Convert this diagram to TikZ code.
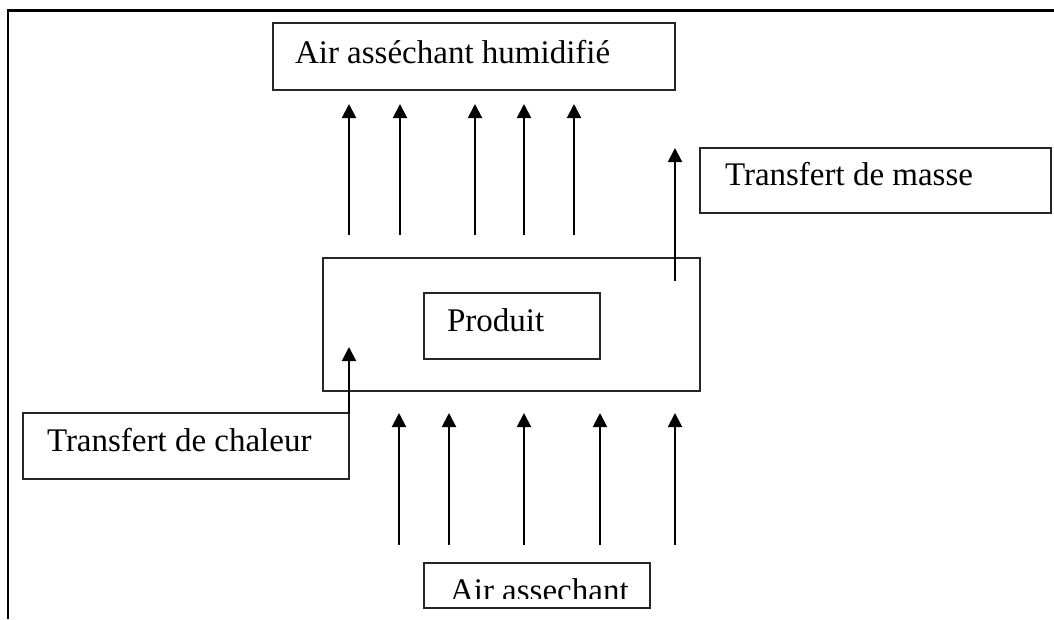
\documentclass[tikz,border=0pt]{standalone}
\usepackage{fontspec}
\setmainfont{Liberation Serif}
\usetikzlibrary{arrows.meta}
\begin{document}
\begin{tikzpicture}[x=1pt,y=-1pt,
  box/.style={draw=black!85,line width=1.6pt,inner sep=0pt,outer sep=0pt},
  lbl/.style={inner sep=0pt,outer sep=0pt,anchor=base west,font=\fontsize{33}{40}\selectfont},
  flow/.style={line width=2pt,-{Triangle[width=14pt,length=14pt]}}]
\useasboundingbox (0,0) rectangle (1054,619);
% frame (top and left edges)
\draw[line width=2.4pt] (8,619) -- (8,10.5) -- (1054,10.5);
% boxes
\node[box,minimum width=402pt,minimum height=67pt] (top) at (474,56.5) {};
\node[box,minimum width=351pt,minimum height=65pt] (masse) at (875.5,180.5) {};
\node[box,minimum width=377pt,minimum height=133pt] (milieu) at (511.5,324.5) {};
\node[box,minimum width=176pt,minimum height=66pt] (produit) at (512,326) {};
\node[box,minimum width=326pt,minimum height=66pt] (chaleur) at (186,446) {};
\node[box,minimum width=226pt,minimum height=45pt] (bas) at (537,585.5) {};
% texts
\node[lbl] (ttop) at (295,63) {Air asséchant humidifié};
\node[lbl] (tmasse) at (725,185) {Transfert de masse};
\node[lbl] (tproduit) at (447,331) {Produit};
\node[lbl] (tchaleur) at (47,451) {Transfert de chaleur};
\begin{scope}
  \clip (bas.north west) rectangle (650,598);
  \node[lbl] (tbas) at (450,601) {Air assechant};
\end{scope}
% upper arrows
\foreach \i/\x in {1/349,2/400,3/475,4/524,5/574}{
  \coordinate (us\i) at (\x,235);
  \coordinate (ue\i) at (\x,104);
  \draw[flow] (us\i) -- (ue\i);
}
% lower arrows
\foreach \i/\x in {1/399,2/449,3/524,4/600,5/675}{
  \coordinate (ls\i) at (\x,545);
  \coordinate (le\i) at (\x,413);
  \draw[flow] (ls\i) -- (le\i);
}
% mass transfer arrow
\coordinate (ms) at (675,281);
\coordinate (me) at (675,148);
\draw[flow] (ms) -- (me);
% heat transfer arrow
\coordinate (he) at (349,347);
\draw[flow] (chaleur.north east) -- (he);
\end{tikzpicture}
\end{document}
